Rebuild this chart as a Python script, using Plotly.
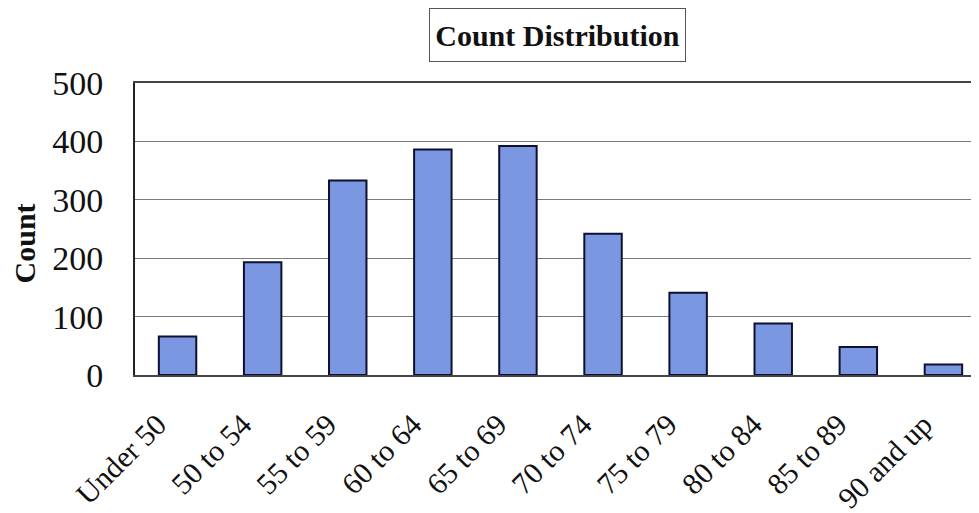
import plotly.graph_objects as go

categories = ["Under 50", "50 to 54", "55 to 59", "60 to 64", "65 to 69",
              "70 to 74", "75 to 79", "80 to 84", "85 to 89", "90 and up"]
counts = [66, 193, 333, 386, 392, 242, 141, 88, 48, 18]
y_ticks = [0, 100, 200, 300, 400, 500]

serif = "Liberation Serif, Times New Roman, serif"

fig = go.Figure()
fig.add_trace(go.Bar(
    x=categories, y=counts,
    width=0.44,
    marker=dict(color="#7b97e2", line=dict(color="#0d1030", width=2)),
))

# page body has an 8px margin, so the figure is offset by (8, 8)
fig.update_layout(
    width=979, height=513,
    margin=dict(l=127, r=8, t=75, b=146),
    paper_bgcolor="white", plot_bgcolor="white",
    showlegend=False,
    font=dict(family=serif, color="#111"),
    xaxis=dict(
        type="category",
        range=[-0.5, 9.418],
        tickangle=-45,
        tickfont=dict(size=30, family=serif, color="#111"),
        showgrid=False,
        showline=True, linecolor="#444", linewidth=2, mirror=True,
        ticks="", ticklabelstandoff=18, ticklabelshift=-20,
        automargin=False,
    ),
    yaxis=dict(
        range=[0, 500],
        tickvals=y_ticks,
        tickfont=dict(size=34, family=serif, color="#111"),
        showgrid=True, gridcolor="#7a7a7a", gridwidth=1,
        showline=True, linecolor="#222", linewidth=2,
        zeroline=False,
        ticks="", ticklabelstandoff=23,
        automargin=False,
    ),
    annotations=[
        dict(text="<b>Count Distribution</b>", xref="paper", yref="paper",
             x=0.5006, y=1.165, xanchor="center", yanchor="middle",
             showarrow=False, font=dict(size=30, family=serif, color="#111"),
             bordercolor="#555", borderwidth=1, borderpad=4,
             width=247, height=44),
        dict(text="<b>Count</b>", xref="paper", yref="paper",
             x=(24 - 135) / 844, y=(374.5 - 243) / 291.8,
             xanchor="center", yanchor="middle", textangle=-90,
             showarrow=False, font=dict(size=30, family=serif, color="#111")),
    ],
)

fig.write_html("out.html")
